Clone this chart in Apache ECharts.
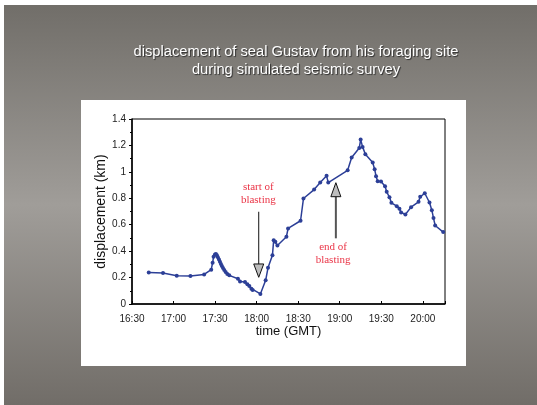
<!DOCTYPE html>
<html>
<head>
<meta charset="utf-8">
<script src="https://cdn.jsdelivr.net/npm/echarts@6/dist/echarts.min.js"></script>
<style>
  html, body { margin: 0; padding: 0; background: #ffffff; }
  #chart { width: 537px; height: 405px; }
</style>
</head>
<body>
<div id="chart"></div>
<script>
// Fix times in minutes after midnight (GMT)
const times = [
  1002.1, 1012.4, 1022.3, 1032.2, 1042.1, 1047.2, 1048.2, 1048.9, 1049.9, 1050.6,
  1051.3, 1052.0, 1052.8, 1053.5, 1054.2, 1054.9, 1055.7, 1056.6, 1057.6, 1058.8,
  1060.2, 1066.5, 1068.0, 1071.6, 1073.3, 1074.7, 1076.2, 1077.1, 1082.7, 1086.5,
  1088.2, 1091.4, 1092.3, 1093.5, 1095.0, 1101.5, 1102.7, 1111.7, 1113.8, 1121.5,
  1125.9, 1130.5, 1131.7, 1145.7, 1148.6, 1154.1, 1155.1, 1156.5, 1158.5, 1163.8,
  1165.2, 1166.2, 1167.4, 1169.8, 1172.7, 1173.9, 1175.9, 1177.3, 1181.2, 1183.1,
  1184.3, 1187.4, 1191.5, 1196.9, 1198.1, 1201.4, 1204.8, 1206.5, 1207.7, 1208.9,
  1214.7
];
// Distance from the foraging site (km)
const displacement = [
  0.239, 0.234, 0.214, 0.212, 0.224, 0.260, 0.312, 0.357, 0.375, 0.378,
  0.368, 0.353, 0.337, 0.320, 0.302, 0.287, 0.272, 0.257, 0.242, 0.227,
  0.217, 0.191, 0.171, 0.166, 0.149, 0.136, 0.116, 0.106, 0.076, 0.179,
  0.274, 0.368, 0.483, 0.471, 0.443, 0.509, 0.572, 0.630, 0.798, 0.866,
  0.919, 0.970, 0.919, 1.012, 1.108, 1.181, 1.244, 1.189, 1.133, 1.070,
  1.020, 0.967, 0.929, 0.927, 0.891, 0.849, 0.808, 0.766, 0.740, 0.720,
  0.693, 0.677, 0.733, 0.773, 0.811, 0.838, 0.768, 0.710, 0.650, 0.594,
  0.544
];
const xTickLabels = ['16:30', '17:00', '17:30', '18:00', '18:30', '19:00', '19:30', '20:00'];
const yTickLabels = ['0', '0.2', '0.4', '0.6', '0.8', '1', '1.2', '1.4'];

const titleLines = ['displacement of seal Gustav from his foraging site', 'during simulated seismic survey'];

// Annotation arrows in data units: [time, value] for tail, head base, head tip
const startArrow = { time: 1081.5, tail: 0.698, base: 0.303, tip: 0.202 };
const endArrow = { time: 1137.2, tail: 0.497, base: 0.812, tip: 0.918 };
const startText = { time: 1081.2, value: 0.836, lines: ['start of', 'blasting'] };
const endText = { time: 1135.2, value: 0.385, lines: ['end of', 'blasting'] };

const X_MIN = 990, X_MAX = 1216;

const chart = echarts.init(document.getElementById('chart'), null, { renderer: 'canvas' });

const backdrop = [
  { type: 'rect', z: -20, shape: { x: 0, y: 0, width: 537, height: 405 }, style: { fill: '#ffffff' }, silent: true },
  { type: 'rect', z: -19, shape: { x: 4, y: 5, width: 533, height: 400 },
    style: { fill: new echarts.graphic.LinearGradient(0, 0, 0, 1, [
      { offset: 0, color: '#716e69' },
      { offset: 0.5, color: '#a09d99' },
      { offset: 1, color: '#716d68' }
    ]) }, silent: true },
  { type: 'rect', z: -18, shape: { x: 81, y: 100, width: 385, height: 266 }, style: { fill: '#ffffff' }, silent: true }
];

chart.setOption({
  animation: false,
  title: {
    text: titleLines.join('\n'),
    left: 296,
    top: 43,
    padding: 0,
    textAlign: 'center',
    textStyle: {
      color: '#ffffff',
      fontFamily: '"Liberation Sans", Arial, sans-serif',
      fontSize: 14.7,
      fontWeight: 'normal',
      lineHeight: 18,
      textShadowColor: 'rgba(30,30,30,0.85)',
      textShadowBlur: 1,
      textShadowOffsetX: 1,
      textShadowOffsetY: 1
    }
  },
  graphic: backdrop,
  grid: {
    left: 132, top: 119, right: 92, bottom: 101,
    show: true, borderColor: '#000', borderWidth: 1, backgroundColor: 'transparent'
  },
  xAxis: {
    type: 'value',
    min: X_MIN, max: X_MAX, interval: 30,
    name: 'time (GMT)',
    nameLocation: 'middle',
    nameGap: 21,
    nameMoveOverlap: false,
    nameTextStyle: { color: '#111', fontSize: 13, fontFamily: '"Liberation Sans", Arial, sans-serif' },
    axisLine: { lineStyle: { color: '#000', width: 1.5 } },
    axisTick: { inside: true, length: 3, lineStyle: { color: '#000' } },
    splitLine: { show: false },
    axisLabel: {
      color: '#222', fontSize: 10, margin: 10,
      fontFamily: '"Liberation Sans", Arial, sans-serif',
      formatter: function (v) {
        const i = Math.round((v - X_MIN) / 30);
        return (Math.abs(v - X_MIN - i * 30) < 1e-6 && xTickLabels[i]) ? xTickLabels[i] : '';
      }
    }
  },
  yAxis: {
    type: 'value',
    min: 0, max: 1.4, interval: 0.2,
    name: 'displacement (km)',
    nameLocation: 'middle',
    nameGap: 24,
    nameMoveOverlap: false,
    nameTextStyle: { color: '#111', fontSize: 14, fontFamily: '"Liberation Sans", Arial, sans-serif' },
    axisLine: { show: true, lineStyle: { color: '#000', width: 1.5 } },
    axisTick: { show: true, length: 3, lineStyle: { color: '#000' } },
    minorTick: { show: true, splitNumber: 2, length: 2, lineStyle: { color: '#000' } },
    splitLine: { show: false },
    axisLabel: {
      color: '#222', fontSize: 10, margin: 6,
      fontFamily: '"Liberation Sans", Arial, sans-serif',
      formatter: function (v) {
        const i = Math.round(v / 0.2);
        return yTickLabels[i] !== undefined ? yTickLabels[i] : '';
      }
    }
  },
  series: [{
    type: 'line',
    data: times.map((t, i) => [t, displacement[i]]),
    lineStyle: { color: '#2c3f97', width: 1.5 },
    itemStyle: { color: '#2c3f97' },
    symbol: 'circle',
    symbolSize: 4,
    showAllSymbol: true,
    z: 5
  }]
});

// Arrows and captions, placed through the axes' data-to-pixel mapping
function px(t, v) { return chart.convertToPixel({ gridIndex: 0 }, [t, v]); }

function arrow(a, lineColor, lineWidth) {
  const tail = px(a.time, a.tail), base = px(a.time, a.base), tip = px(a.time, a.tip);
  const half = 5;
  return [
    { type: 'line', z: 10, shape: { x1: tail[0], y1: tail[1], x2: base[0], y2: base[1] },
      style: { stroke: lineColor, lineWidth: lineWidth } },
    { type: 'polygon', z: 11, shape: { points: [[base[0] - half, base[1]], [base[0] + half, base[1]], [tip[0], tip[1]]] },
      style: { fill: '#bdbdbd', stroke: '#111', lineWidth: 1 } }
  ];
}

function caption(c) {
  const p = px(c.time, c.value);
  return { type: 'text', z: 12, x: p[0], y: p[1],
    style: { text: c.lines.join('\n'), fill: '#ea3446', align: 'center', verticalAlign: 'middle',
      font: '11px "Liberation Serif", "Times New Roman", serif', lineHeight: 13 } };
}

chart.setOption({
  graphic: backdrop.concat(
    arrow(startArrow, '#111', 1),
    arrow(endArrow, '#555', 2),
    [caption(startText), caption(endText)]
  )
});
</script>
</body>
</html>
